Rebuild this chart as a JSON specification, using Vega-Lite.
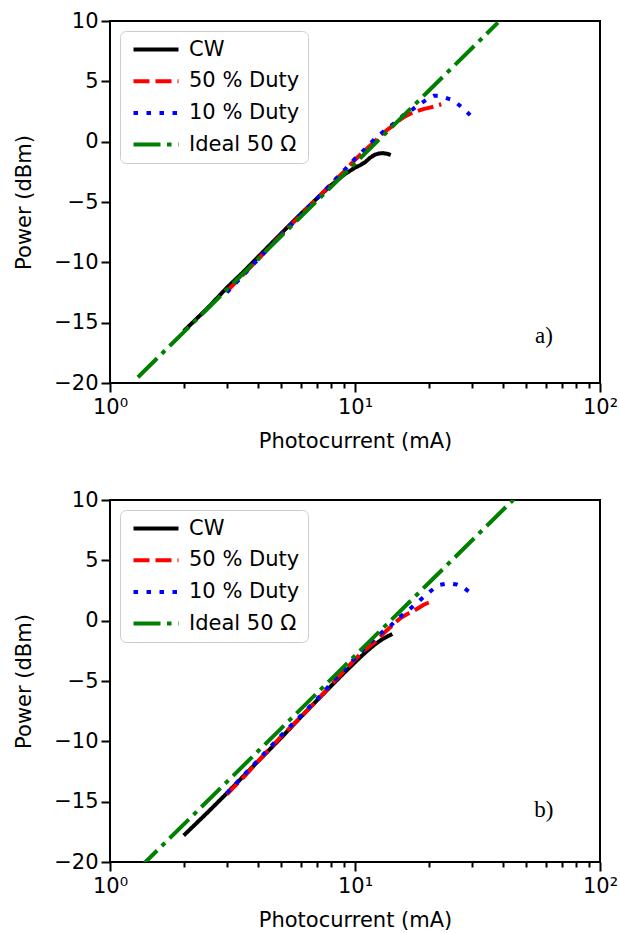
{
  "$schema": "https://vega.github.io/schema/vega-lite/v6.json",
  "padding": {"left": 12, "top": 9, "right": 5, "bottom": 0},
  "background": "white",
  "spacing": 36,
  "datasets": {
    "top": [
      {"series": "CW", "I": 2.0, "P": -15.7},
      {"series": "CW", "I": 2.5, "P": -13.8},
      {"series": "CW", "I": 3.0, "P": -12.1},
      {"series": "CW", "I": 3.5, "P": -10.8},
      {"series": "CW", "I": 4.0, "P": -9.6},
      {"series": "CW", "I": 5.0, "P": -7.6},
      {"series": "CW", "I": 6.0, "P": -6.0},
      {"series": "CW", "I": 7.0, "P": -4.7},
      {"series": "CW", "I": 8.0, "P": -3.6},
      {"series": "CW", "I": 9.0, "P": -2.75},
      {"series": "CW", "I": 10.0, "P": -2.15},
      {"series": "CW", "I": 10.5, "P": -1.95},
      {"series": "CW", "I": 11.0, "P": -1.7},
      {"series": "CW", "I": 11.5, "P": -1.35},
      {"series": "CW", "I": 12.0, "P": -1.1},
      {"series": "CW", "I": 12.5, "P": -0.98},
      {"series": "CW", "I": 13.0, "P": -0.95},
      {"series": "CW", "I": 13.5, "P": -1.0},
      {"series": "CW", "I": 14.0, "P": -1.1},
      {"series": "50 % Duty", "I": 3.0, "P": -12.4},
      {"series": "50 % Duty", "I": 4.0, "P": -9.8},
      {"series": "50 % Duty", "I": 5.0, "P": -7.7},
      {"series": "50 % Duty", "I": 6.0, "P": -6.1},
      {"series": "50 % Duty", "I": 7.0, "P": -4.7},
      {"series": "50 % Duty", "I": 8.0, "P": -3.5},
      {"series": "50 % Duty", "I": 9.0, "P": -2.5},
      {"series": "50 % Duty", "I": 10.0, "P": -1.5},
      {"series": "50 % Duty", "I": 11.0, "P": -0.7},
      {"series": "50 % Duty", "I": 12.0, "P": 0.0},
      {"series": "50 % Duty", "I": 13.0, "P": 0.7},
      {"series": "50 % Duty", "I": 14.0, "P": 1.2},
      {"series": "50 % Duty", "I": 15.0, "P": 1.7},
      {"series": "50 % Duty", "I": 16.0, "P": 2.1},
      {"series": "50 % Duty", "I": 17.0, "P": 2.35},
      {"series": "50 % Duty", "I": 18.0, "P": 2.55},
      {"series": "50 % Duty", "I": 19.0, "P": 2.7},
      {"series": "50 % Duty", "I": 20.0, "P": 2.8},
      {"series": "50 % Duty", "I": 21.0, "P": 2.9},
      {"series": "50 % Duty", "I": 22.5, "P": 3.1},
      {"series": "10 % Duty", "I": 3.0, "P": -12.5},
      {"series": "10 % Duty", "I": 4.0, "P": -9.8},
      {"series": "10 % Duty", "I": 5.0, "P": -7.7},
      {"series": "10 % Duty", "I": 6.0, "P": -6.1},
      {"series": "10 % Duty", "I": 7.0, "P": -4.7},
      {"series": "10 % Duty", "I": 8.0, "P": -3.5},
      {"series": "10 % Duty", "I": 9.0, "P": -2.4},
      {"series": "10 % Duty", "I": 10.0, "P": -1.4},
      {"series": "10 % Duty", "I": 11.0, "P": -0.6},
      {"series": "10 % Duty", "I": 12.0, "P": 0.2},
      {"series": "10 % Duty", "I": 13.0, "P": 0.8},
      {"series": "10 % Duty", "I": 14.0, "P": 1.3},
      {"series": "10 % Duty", "I": 15.0, "P": 1.8},
      {"series": "10 % Duty", "I": 16.0, "P": 2.3},
      {"series": "10 % Duty", "I": 17.0, "P": 2.6},
      {"series": "10 % Duty", "I": 18.0, "P": 3.0},
      {"series": "10 % Duty", "I": 19.0, "P": 3.3},
      {"series": "10 % Duty", "I": 20.0, "P": 3.6},
      {"series": "10 % Duty", "I": 21.0, "P": 3.8},
      {"series": "10 % Duty", "I": 22.0, "P": 3.8},
      {"series": "10 % Duty", "I": 23.0, "P": 3.7},
      {"series": "10 % Duty", "I": 24.5, "P": 3.5},
      {"series": "10 % Duty", "I": 26.0, "P": 3.2},
      {"series": "10 % Duty", "I": 27.5, "P": 2.8},
      {"series": "10 % Duty", "I": 29.5, "P": 2.2},
      {"series": "Ideal 50 Ω", "I": 1.3, "P": -19.52},
      {"series": "Ideal 50 Ω", "I": 2.0, "P": -15.78},
      {"series": "Ideal 50 Ω", "I": 5.0, "P": -7.82},
      {"series": "Ideal 50 Ω", "I": 10.0, "P": -1.8},
      {"series": "Ideal 50 Ω", "I": 20.0, "P": 4.22},
      {"series": "Ideal 50 Ω", "I": 38.3, "P": 9.86}
    ],
    "bottom": [
      {"series": "CW", "I": 2.0, "P": -17.8},
      {"series": "CW", "I": 2.5, "P": -15.9},
      {"series": "CW", "I": 3.0, "P": -14.3},
      {"series": "CW", "I": 3.5, "P": -12.9},
      {"series": "CW", "I": 4.0, "P": -11.7},
      {"series": "CW", "I": 5.0, "P": -9.7},
      {"series": "CW", "I": 6.0, "P": -8.0},
      {"series": "CW", "I": 7.0, "P": -6.6},
      {"series": "CW", "I": 8.0, "P": -5.4},
      {"series": "CW", "I": 9.0, "P": -4.35},
      {"series": "CW", "I": 10.0, "P": -3.45},
      {"series": "CW", "I": 11.0, "P": -2.65},
      {"series": "CW", "I": 12.0, "P": -2.0},
      {"series": "CW", "I": 13.0, "P": -1.5},
      {"series": "CW", "I": 14.2, "P": -1.1},
      {"series": "50 % Duty", "I": 3.0, "P": -14.4},
      {"series": "50 % Duty", "I": 3.5, "P": -13.0},
      {"series": "50 % Duty", "I": 4.0, "P": -11.7},
      {"series": "50 % Duty", "I": 5.0, "P": -9.6},
      {"series": "50 % Duty", "I": 6.0, "P": -8.0},
      {"series": "50 % Duty", "I": 7.0, "P": -6.6},
      {"series": "50 % Duty", "I": 8.0, "P": -5.3},
      {"series": "50 % Duty", "I": 9.0, "P": -4.2},
      {"series": "50 % Duty", "I": 10.0, "P": -3.2},
      {"series": "50 % Duty", "I": 11.0, "P": -2.4},
      {"series": "50 % Duty", "I": 12.0, "P": -1.8},
      {"series": "50 % Duty", "I": 13.0, "P": -1.1},
      {"series": "50 % Duty", "I": 14.0, "P": -0.5},
      {"series": "50 % Duty", "I": 15.4, "P": 0.25},
      {"series": "50 % Duty", "I": 16.5, "P": 0.6},
      {"series": "50 % Duty", "I": 17.5, "P": 0.85},
      {"series": "50 % Duty", "I": 19.0, "P": 1.3},
      {"series": "50 % Duty", "I": 20.5, "P": 1.6},
      {"series": "10 % Duty", "I": 3.0, "P": -14.3},
      {"series": "10 % Duty", "I": 4.0, "P": -11.6},
      {"series": "10 % Duty", "I": 5.0, "P": -9.5},
      {"series": "10 % Duty", "I": 6.0, "P": -7.9},
      {"series": "10 % Duty", "I": 7.0, "P": -6.5},
      {"series": "10 % Duty", "I": 8.0, "P": -5.2},
      {"series": "10 % Duty", "I": 9.0, "P": -4.1},
      {"series": "10 % Duty", "I": 10.0, "P": -3.1},
      {"series": "10 % Duty", "I": 11.0, "P": -2.2},
      {"series": "10 % Duty", "I": 12.0, "P": -1.5},
      {"series": "10 % Duty", "I": 13.0, "P": -0.9},
      {"series": "10 % Duty", "I": 14.0, "P": -0.4},
      {"series": "10 % Duty", "I": 15.0, "P": 0.2},
      {"series": "10 % Duty", "I": 16.4, "P": 0.8},
      {"series": "10 % Duty", "I": 17.5, "P": 1.3},
      {"series": "10 % Duty", "I": 18.9, "P": 1.9},
      {"series": "10 % Duty", "I": 20.5, "P": 2.5},
      {"series": "10 % Duty", "I": 22.0, "P": 2.95},
      {"series": "10 % Duty", "I": 23.5, "P": 3.05},
      {"series": "10 % Duty", "I": 24.6, "P": 3.07},
      {"series": "10 % Duty", "I": 26.0, "P": 3.0},
      {"series": "10 % Duty", "I": 27.5, "P": 2.8},
      {"series": "10 % Duty", "I": 29.6, "P": 2.3},
      {"series": "Ideal 50 Ω", "I": 1.3, "P": -20.62},
      {"series": "Ideal 50 Ω", "I": 2.0, "P": -16.88},
      {"series": "Ideal 50 Ω", "I": 5.0, "P": -8.92},
      {"series": "Ideal 50 Ω", "I": 10.0, "P": -2.9},
      {"series": "Ideal 50 Ω", "I": 20.0, "P": 3.12},
      {"series": "Ideal 50 Ω", "I": 44.5, "P": 10.07}
    ],
    "topLabel": [{"text": "a)", "I": 59, "P": -16.1}],
    "bottomLabel": [{"text": "b)", "I": 59, "P": -15.7}]
  },
  "resolve": {"legend": {"color": "independent", "strokeDash": "independent"}},
  "vconcat": [
    {
      "width": 490,
      "height": 362,
      "layer": [
        {
          "data": {"name": "top"},
          "mark": {"type": "line", "strokeWidth": 4, "clip": true, "strokeCap": "butt"},
          "encoding": {
            "x": {"field": "I", "type": "quantitative", "scale": {"type": "log", "domain": [1, 100], "nice": false},
              "axis": {"title": "Photocurrent (mA)", "values": [1, 2, 3, 4, 5, 6, 7, 8, 9, 10, 20, 30, 40, 50, 60, 70, 80, 90, 100]}},
            "y": {"field": "P", "type": "quantitative", "scale": {"domain": [-20, 10], "nice": false, "zero": false},
              "axis": {"title": "Power (dBm)", "values": [-20, -15, -10, -5, 0, 5, 10]}},
            "color": {"field": "series", "type": "nominal", "sort": null,
              "scale": {"domain": ["CW", "50 % Duty", "10 % Duty", "Ideal 50 Ω"], "range": ["#000000", "#ff0000", "#0000ff", "#008000"]},
              "legend": {"title": null}},
            "strokeDash": {"field": "series", "type": "nominal", "sort": null,
              "scale": {"domain": ["CW", "50 % Duty", "10 % Duty", "Ideal 50 Ω"], "range": [[1, 0], [16, 6], [4.5, 8.5], [27, 6.5, 4.5, 6.5]]},
              "legend": {"title": null}}
          }
        },
        {
          "data": {"name": "topLabel"},
          "mark": {"type": "text", "font": "Liberation Serif", "fontSize": 23, "align": "center", "baseline": "middle", "color": "black"},
          "encoding": {
            "x": {"field": "I", "type": "quantitative"},
            "y": {"field": "P", "type": "quantitative"},
            "text": {"field": "text"}
          }
        }
      ]
    },
    {
      "width": 490,
      "height": 362,
      "layer": [
        {
          "data": {"name": "bottom"},
          "mark": {"type": "line", "strokeWidth": 4, "clip": true, "strokeCap": "butt"},
          "encoding": {
            "x": {"field": "I", "type": "quantitative", "scale": {"type": "log", "domain": [1, 100], "nice": false},
              "axis": {"title": "Photocurrent (mA)", "values": [1, 2, 3, 4, 5, 6, 7, 8, 9, 10, 20, 30, 40, 50, 60, 70, 80, 90, 100]}},
            "y": {"field": "P", "type": "quantitative", "scale": {"domain": [-20, 10], "nice": false, "zero": false},
              "axis": {"title": "Power (dBm)", "values": [-20, -15, -10, -5, 0, 5, 10]}},
            "color": {"field": "series", "type": "nominal", "sort": null,
              "scale": {"domain": ["CW", "50 % Duty", "10 % Duty", "Ideal 50 Ω"], "range": ["#000000", "#ff0000", "#0000ff", "#008000"]},
              "legend": {"title": null}},
            "strokeDash": {"field": "series", "type": "nominal", "sort": null,
              "scale": {"domain": ["CW", "50 % Duty", "10 % Duty", "Ideal 50 Ω"], "range": [[1, 0], [16, 6], [4.5, 8.5], [27, 6.5, 4.5, 6.5]]},
              "legend": {"title": null}}
          }
        },
        {
          "data": {"name": "bottomLabel"},
          "mark": {"type": "text", "font": "Liberation Serif", "fontSize": 23, "align": "center", "baseline": "middle", "color": "black"},
          "encoding": {
            "x": {"field": "I", "type": "quantitative"},
            "y": {"field": "P", "type": "quantitative"},
            "text": {"field": "text"}
          }
        }
      ]
    }
  ],
  "config": {
    "view": {"stroke": "black", "strokeWidth": 2},
    "font": "DejaVu Sans",
    "axis": {
      "grid": false,
      "domain": false,
      "tickColor": "black",
      "tickWidth": 2,
      "labelColor": "black",
      "labelFont": "DejaVu Sans",
      "labelFontSize": 21,
      "titleColor": "black",
      "titleFont": "DejaVu Sans",
      "titleFontSize": 21,
      "titleFontWeight": "normal"
    },
    "axisX": {
      "labelExpr": "datum.value == 1 ? '10⁰' : datum.value == 10 ? '10¹' : datum.value == 100 ? '10²' : ''",
      "tickSize": {"condition": {"test": "datum.value == 1 || datum.value == 10 || datum.value == 100", "value": 9}, "value": 5},
      "labelPadding": 4,
      "labelFlush": false,
      "labelOverlap": false,
      "titlePadding": 13
    },
    "axisY": {
      "tickSize": 9,
      "labelPadding": 3,
      "titlePadding": 19
    },
    "legend": {
      "orient": "none",
      "legendX": 10,
      "legendY": 10,
      "symbolType": "M-1,0H8",
      "symbolSize": 100,
      "symbolStrokeWidth": 4,
      "labelFont": "DejaVu Sans",
      "labelFontSize": 21,
      "labelColor": "black",
      "labelOffset": 40,
      "rowPadding": 9.7,
      "padding": 8,
      "fillColor": "rgba(255,255,255,0.8)",
      "strokeColor": "#cccccc",
      "cornerRadius": 6
    }
  }
}
